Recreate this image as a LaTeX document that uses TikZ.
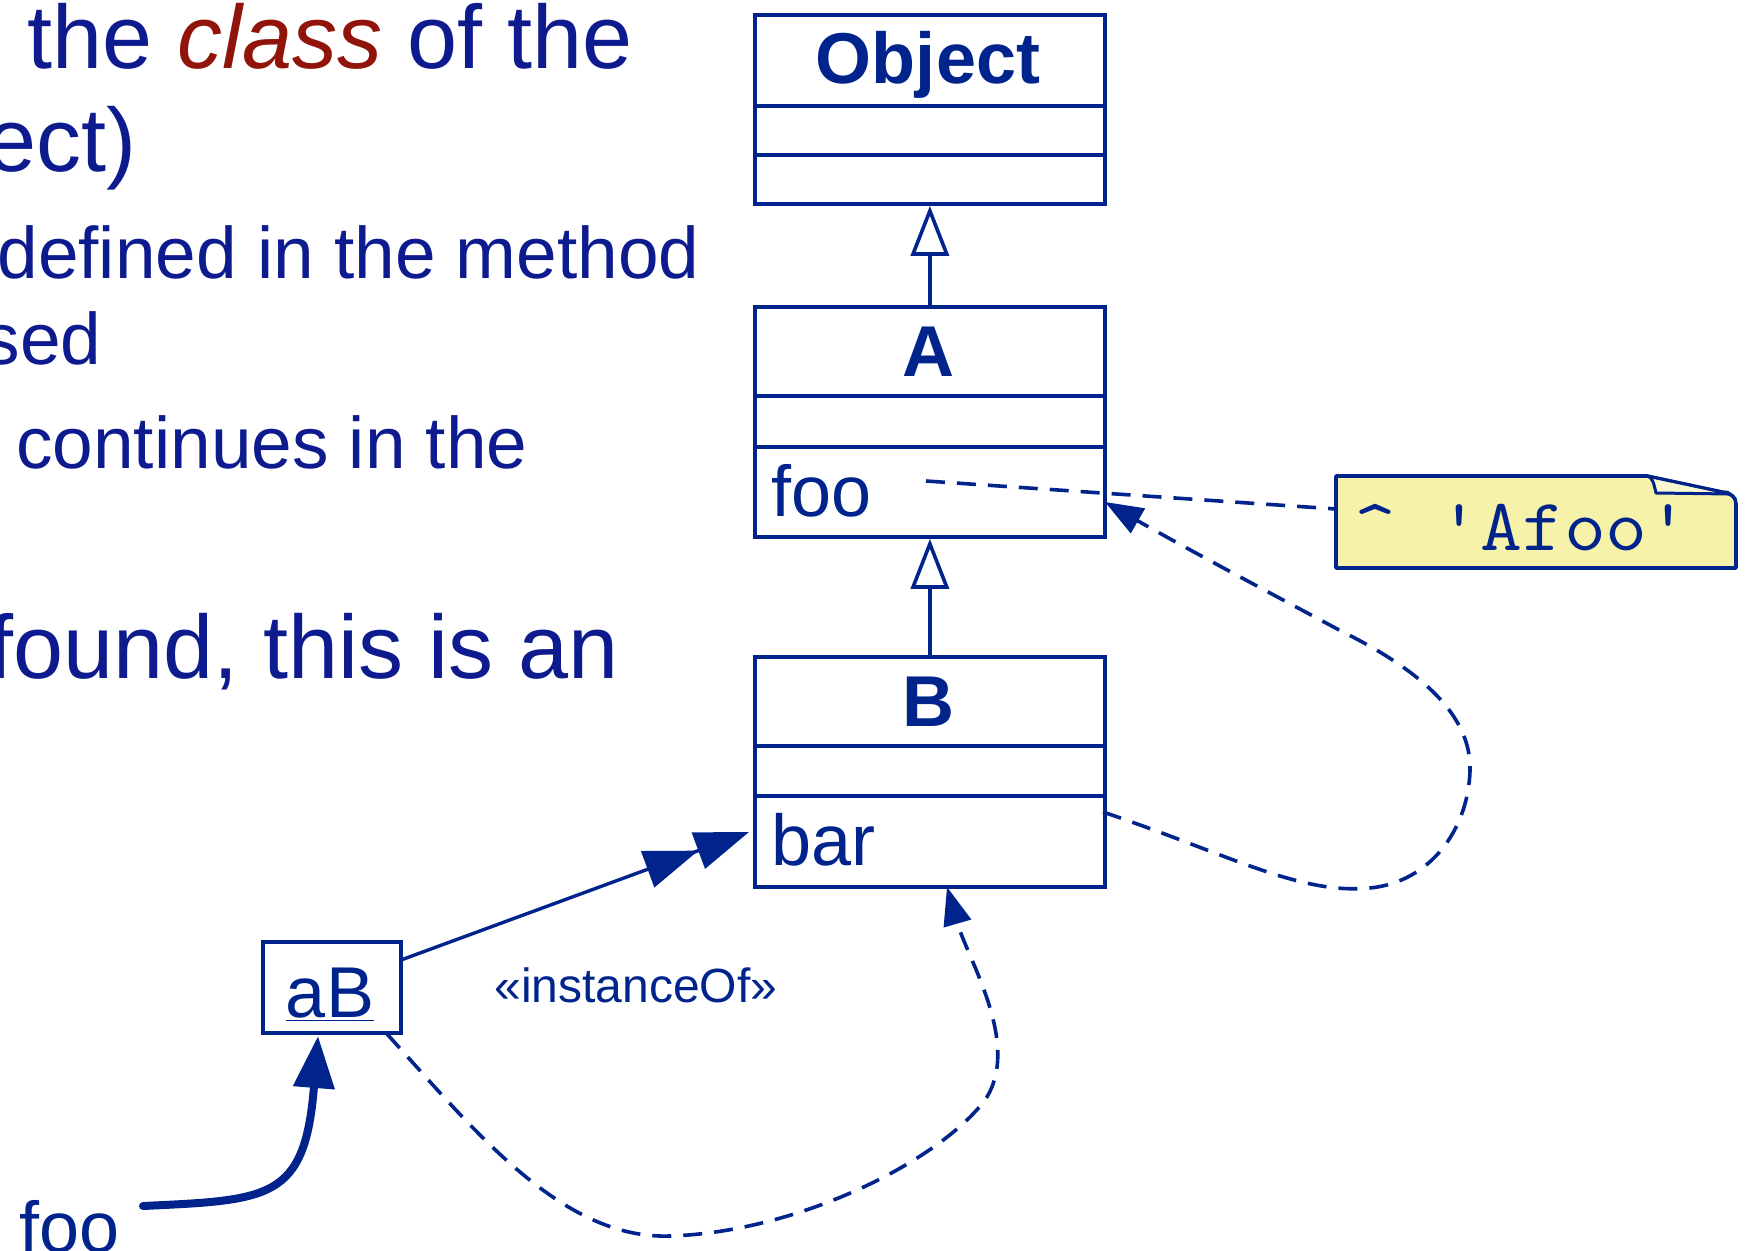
\documentclass[tikz,border=0pt]{standalone}
\usepackage{fontspec}
\usepackage{graphicx}
\setmainfont{Liberation Sans}
\usetikzlibrary{arrows.meta}
\definecolor{tblue}{RGB}{13,27,143}
\definecolor{cred}{RGB}{145,20,10}
\definecolor{dblue}{RGB}{0,36,140}
\definecolor{notefill}{RGB}{246,242,170}
\definecolor{foldfill}{RGB}{250,248,208}
\begin{document}
\begin{tikzpicture}[x=0.5pt,y=-0.5pt,
  bigtxt/.style={inner sep=0pt, text=tblue, font=\fontsize{45pt}{54pt}\selectfont},
  smalltxt/.style={inner sep=0pt, text=tblue, font=\fontsize{36.5pt}{44pt}\selectfont},
  comp/.style={draw=dblue, line width=1.9pt, minimum width=175pt, inner sep=0pt, anchor=north west},
  cname/.style={inner sep=0pt, text=dblue, font=\fontsize{36pt}{43pt}\selectfont\bfseries, anchor=base},
  attr/.style={inner sep=0pt, text=dblue, font=\fontsize{36pt}{43pt}\selectfont, anchor=base west},
  gen/.style={draw=dblue, line width=1.8pt, -{Triangle[length=25pt,width=19pt,fill=white]}},
  dep/.style={draw=dblue, line width=1.8pt, dash pattern=on 9.5pt off 6pt},
  deptip/.style={-{Triangle[length=19pt,width=14pt]}},
]
\useasboundingbox (0,0) rectangle (1752,1251);

% slide text
\node[bigtxt, anchor=base west] (l1) at (27,69) {the \textcolor{cred}{\textit{class}} of the};
\node[bigtxt, anchor=base east] (l2) at (137,172) {ect)};
\node[smalltxt, anchor=base east] (l3) at (700,279) {defined in the method};
\node[smalltxt, anchor=base east] (l4) at (102,365) {sed};
\node[smalltxt, anchor=base east] (l5) at (528,469) {continues in the};
\node[bigtxt, anchor=base east] (l6) at (619,678) {found, this is an};

% class Object
\node[comp, minimum height=45.5pt] (objN) at (753,13) {};
\node[comp, minimum height=24.5pt] (objA) at (753,104) {};
\node[comp, minimum height=24.5pt] (objM) at (753,153) {};
\node[cname] (objT) at (928,84) {Object};

% class A
\node[comp, minimum height=44.5pt] (aN) at (753,305) {};
\node[comp, minimum height=25.5pt] (aA) at (753,394) {};
\node[comp, minimum height=45pt] (aM) at (753,445) {};
\node[cname] (aT) at (928,377) {A};
\node[attr] (aFoo) at (771,517) {foo};

% class B
\node[comp, minimum height=44.5pt] (bN) at (753,655) {};
\node[comp, minimum height=25pt] (bA) at (753,744) {};
\node[comp, minimum height=45.5pt] (bM) at (753,794) {};
\node[cname] (bT) at (928,726) {B};
\node[attr] (bBar) at (771,865) {bar};

% generalizations
\draw[gen] (aN.north) -- (objM.south);
\draw[gen] (bN.north) -- (aM.south);

% object aB
\node[draw=dblue, line width=1.8pt, minimum width=69pt, minimum height=45.5pt, inner sep=0pt] (aB) at (332,987.5) {};
\node[inner sep=0pt, text=dblue, font=\fontsize{36pt}{43pt}\selectfont, anchor=base] (aBt) at (330,1017) {\underline{aB}};

% variable foo
\node[inner sep=0pt, text=dblue, font=\fontsize{36pt}{43pt}\selectfont, anchor=base west] (fooV) at (19,1252) {foo};

% stereotype label
\node[inner sep=0pt, text=dblue, font=\fontsize{24pt}{29pt}\selectfont, anchor=base west] (inst) at (494,1002) {«instanceOf»};

% note
\path[draw=dblue, line width=1.8pt, fill=notefill, line join=round]
  (1336,476) -- (1647,476) -- (1722,492) .. controls (1732,494) and (1736,497) .. (1736,504) -- (1736,568) -- (1336,568) -- cycle;
\path[draw=dblue, line width=1.5pt, fill=foldfill, line join=round]
  (1647,476) .. controls (1654,478) and (1654,486) .. (1656,493) -- (1730,494) .. controls (1728,492) .. (1722,492) -- cycle;
\node[inner sep=0pt, text=dblue, font=\fontsize{37pt}{44pt}\ttfamily, anchor=base west] (note) at (1354,551) {\scalebox{1.1}[1]{\textasciicircum{} 'Afoo'}};

% connector coordinates
\coordinate (fooStart) at (926,481);
\coordinate (noteIn) at (1336,509);
\coordinate (barOut) at (1103,812);
\coordinate (aIn) at (1105,502);
\coordinate (aBr) at (401,960);
\coordinate (barIn) at (749,832);
\coordinate (aBout) at (387,1034);
\coordinate (bIn) at (947,887);
\coordinate (fooOut) at (143,1206);
\coordinate (aBin) at (318,1036);

% dashed: foo -> note
\draw[dep] (fooStart) -- (noteIn);

% dashed loop: bar -> foo
\draw[dep, deptip] (barOut) .. controls (1230,855) and (1300,895) .. (1370,888)
  .. controls (1430,882) and (1468,830) .. (1470,771)
  .. controls (1472,715) and (1420,670) .. (1341,631)
  .. controls (1270,593) and (1180,545) .. (aIn);

% instanceOf
\draw[dblue, line width=1.7pt, -{Triangle[length=27pt,width=19pt]Triangle[length=27pt,width=19pt]}] (aBr) -- (barIn);

% dashed: aB -> bar
\draw[dep, deptip] (aBout) .. controls (470,1125) and (560,1240) .. (670,1236)
  .. controls (800,1232) and (940,1160) .. (985,1100)
  .. controls (1022,1045) and (968,960) .. (bIn);

% thick: foo -> aB
\draw[dblue, line width=4pt, line cap=round, -{Triangle[length=26pt,width=20pt]}] (fooOut) .. controls (270,1200) and (305,1200) .. (aBin);
\end{tikzpicture}
\end{document}
